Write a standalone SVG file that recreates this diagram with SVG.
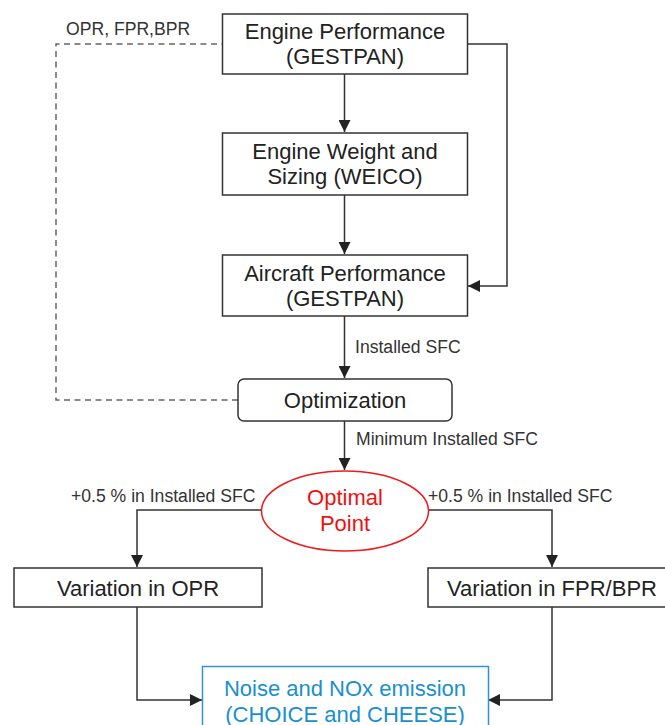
<svg xmlns="http://www.w3.org/2000/svg" width="665" height="725" viewBox="0 0 665 725">
<defs>
<marker id="arr" markerUnits="userSpaceOnUse" markerWidth="12" markerHeight="12" refX="12" refY="6" orient="auto">
<path d="M0,0 L12,6 L0,12 z" fill="#222"/>
</marker>
<style>
.box{fill:#fff;stroke:#333;stroke-width:1.5}
.t{font-family:"Liberation Sans",Arial,sans-serif;font-size:22px;fill:#222;text-anchor:middle}
.lbl{font-family:"Liberation Sans",Arial,sans-serif;font-size:17.6px;fill:#333}
.c{fill:none;stroke:#333;stroke-width:1.5}
.d{fill:none;stroke:#666;stroke-width:1.5;stroke-dasharray:6 4.5}
</style>
</defs>
<rect width="665" height="725" fill="#fff"/>
<g id="connectors">
<path class="c" d="M344.5,74 V132" marker-end="url(#arr)"/>
<path class="c" d="M344.5,195 V254" marker-end="url(#arr)"/>
<path class="c" d="M467,44 H507 V286 H468" marker-end="url(#arr)"/>
<path class="c" d="M344.5,316 V378" marker-end="url(#arr)"/>
<path class="c" d="M344.5,421 V470" marker-end="url(#arr)"/>
<path class="d" d="M238,400 H56 V44 H222"/>
<path class="c" d="M262,510 H137 V567" marker-end="url(#arr)"/>
<path class="c" d="M428,510 H552 V567" marker-end="url(#arr)"/>
<path class="c" d="M137,607 V700 H202" marker-end="url(#arr)"/>
<path class="c" d="M552,607 V700 H488" marker-end="url(#arr)"/>
<text class="lbl" x="66" y="35">OPR, FPR,BPR</text>
<text class="lbl" x="355" y="353">Installed SFC</text>
<text class="lbl" x="356" y="445">Minimum Installed SFC</text>
<text class="lbl" x="71" y="502">+0.5 % in Installed SFC</text>
<text class="lbl" x="428" y="502">+0.5 % in Installed SFC</text>
</g>
<g id="engine-performance">
<rect class="box" x="222.5" y="14" width="245" height="60"/>
<text class="t" x="345" y="39">Engine Performance</text>
<text class="t" x="345" y="64">(GESTPAN)</text>
</g>
<g id="engine-weight">
<rect class="box" x="222.5" y="133" width="245" height="62"/>
<text class="t" x="345" y="159">Engine Weight and</text>
<text class="t" x="345" y="184">Sizing (WEICO)</text>
</g>
<g id="aircraft-performance">
<rect class="box" x="222.5" y="255" width="245" height="61"/>
<text class="t" x="345" y="280.5">Aircraft Performance</text>
<text class="t" x="345" y="305.5">(GESTPAN)</text>
</g>
<g id="optimization">
<rect class="box" x="238" y="379" width="214" height="42" rx="6"/>
<text class="t" x="345" y="408">Optimization</text>
</g>
<g id="optimal-point">
<ellipse cx="345" cy="511" rx="83.5" ry="40" fill="#fff" stroke="#f01818" stroke-width="1.5"/>
<text class="t" x="345" y="505" style="fill:#f01010">Optimal</text>
<text class="t" x="345" y="531" style="fill:#f01010">Point</text>
</g>
<g id="variation-opr">
<rect class="box" x="14" y="568" width="248" height="39"/>
<text class="t" x="138" y="595.5">Variation in OPR</text>
</g>
<g id="variation-fpr">
<rect class="box" x="428" y="568" width="248" height="39"/>
<text class="t" x="552" y="595.5">Variation in FPR/BPR</text>
</g>
<g id="noise">
<rect x="202.5" y="666.5" width="286" height="80" fill="#fff" stroke="#2e93d6" stroke-width="1.5"/>
<text class="t" x="345" y="696" style="fill:#1a8fd0">Noise and NOx emission</text>
<text class="t" x="345" y="721.5" style="fill:#1a8fd0">(CHOICE and CHEESE)</text>
</g>
</svg>
